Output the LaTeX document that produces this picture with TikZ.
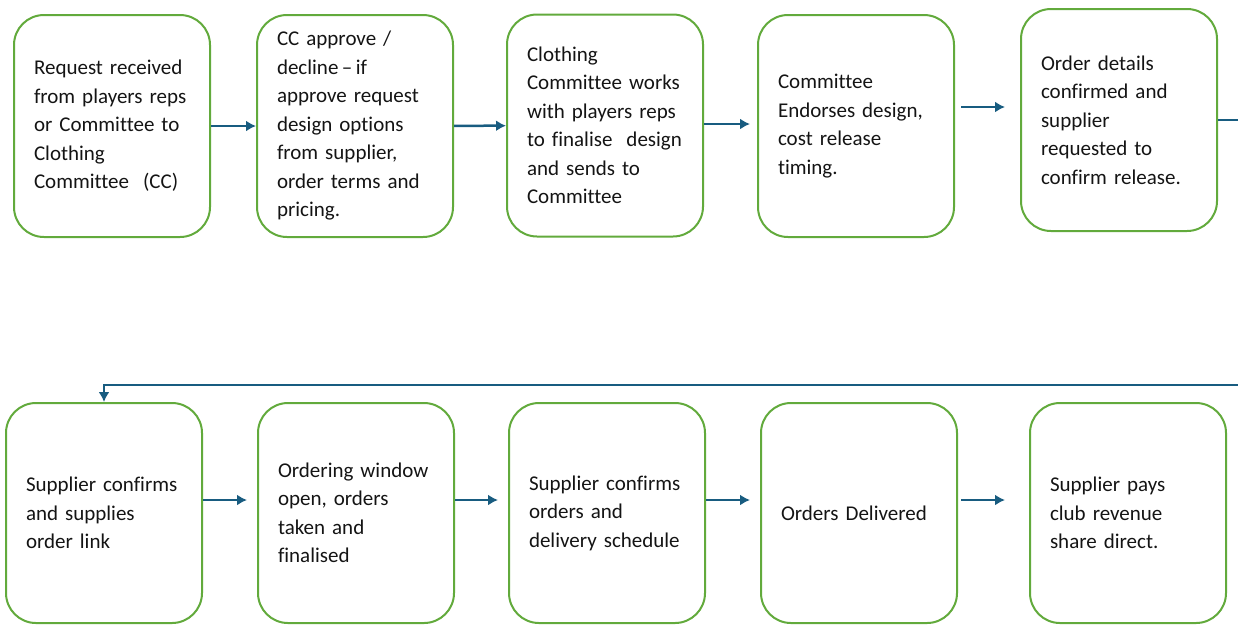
\documentclass[tikz,border=0pt]{standalone}
\usepackage{fontspec}
\setmainfont{Carlito}[RawFeature={-liga;-clig;-calt}]
\usetikzlibrary{arrows.meta}

\definecolor{boxgreen}{RGB}{98,170,60}
\definecolor{flowblue}{RGB}{24,92,128}
\definecolor{inktext}{RGB}{20,20,20}

\tikzset{
  stepbox/.style={draw=boxgreen, line width=2pt, rounded corners=30pt,
    minimum width=196pt, minimum height=222pt, text width=156pt,
    inner xsep=20pt, align=left, text=inktext,
    font=\fontsize{21}{28.5}\selectfont},
  flow/.style={draw=flowblue, line width=2.5pt, -{Latex[length=10pt,width=11pt]}}
}

\begin{document}
\begin{tikzpicture}[x=1pt,y=-1pt]
\useasboundingbox (0,0) rectangle (1238,625);

% top row
\node [stepbox] (b1) at (112,126) {Request received\\from players reps\\or Committee to\\Clothing\\Committee~~(CC)};
\node [stepbox] (b2) at (355,126) {CC approve /\\decline\,–\,if\\approve request\\design options\\from supplier,\\order terms and\\pricing.};
\node [stepbox] (b3) at (605,125.5) {Clothing\\Committee works\\with players reps\\to finalise~~design\\and sends to\\Committee};
\node [stepbox] (b4) at (856,126) {Committee\\Endorses design,\\cost release\\timing.};
\node [stepbox] (b5) at (1119,120) {Order details\\confirmed and\\supplier\\requested to\\confirm release.};

% bottom row
\node [stepbox, minimum height=220pt] (b6) at (104,513) {Supplier confirms\\and supplies\\order link};
\node [stepbox, minimum height=220pt] (b7) at (356,513) {Ordering window\\open, orders\\taken and\\finalised};
\node [stepbox, minimum height=220pt] (b8) at (607,513) {Supplier confirms\\orders and\\delivery schedule};
\node [stepbox, minimum height=220pt] (b9) at (859,513) {Orders Delivered};
\node [stepbox, minimum height=220pt] (b10) at (1128,513) {Supplier pays\\club revenue\\share direct.};

\draw [flow] (b1) -- (b2);
\draw [flow] (b2) -- (b3);
\draw [flow, shorten >=7pt] ([yshift=1.5pt]b3.east) -- ([yshift=2pt]b4.west);
\draw [flow, shorten <=6pt, shorten >=15pt] ([yshift=19pt]b4.east) -- ([yshift=13pt]b5.west);

% wrap round to the second row
\draw [flow] (b5.east) -- ++(40,0) |- ([yshift=17pt]b6.north) -- (b6.north);

\draw [flow, shorten >=10pt] ([yshift=13pt]b6.east) -- ([yshift=13pt]b7.west);
\draw [flow, shorten >=10pt] ([yshift=13pt]b7.east) -- ([yshift=13pt]b8.west);
\draw [flow, shorten >=10pt] ([yshift=13pt]b8.east) -- ([yshift=13pt]b9.west);
\draw [flow, shorten <=3pt, shorten >=24pt] ([yshift=13pt]b9.east) -- ([yshift=13pt]b10.west);

\end{tikzpicture}
\end{document}
